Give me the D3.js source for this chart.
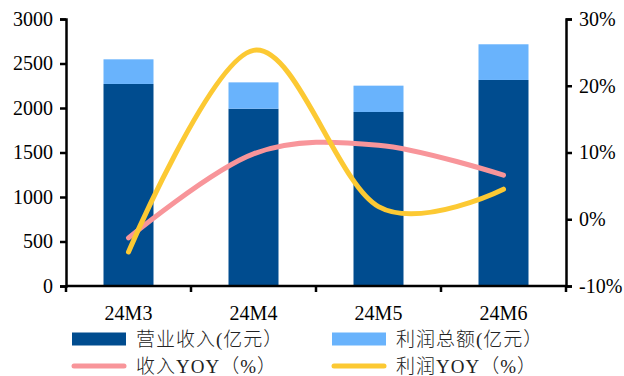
<!DOCTYPE html>
<html>
<head>
<meta charset="utf-8">
<script src="https://cdn.jsdelivr.net/npm/d3@7"></script>
<style>
  html, body { margin: 0; padding: 0; background: #fff; }
  svg { display: block; }
  .num { font-family: "Liberation Serif", "Times New Roman", serif; font-size: 20px; fill: #000; }
  .leg { font-family: "Liberation Serif", "Noto Sans CJK SC", serif; font-size: 19px; font-weight: 300; letter-spacing: 1px; fill: #222; }
</style>
</head>
<body>
<svg id="chart" width="624" height="376"></svg>
<script>
// Monthly figures
const months = ["24M3", "24M4", "24M5", "24M6"];
const revenue = [2270, 1992, 1955, 2315];      // 营业收入(亿元)
const profit = [277, 296, 296, 401];           // 利润总额(亿元)
const revenueYoy = [-2.8, 9.8, 11.1, 6.6];     // 收入YOY (%)
const profitYoy = [-4.9, 25.3, 1.9, 4.5];      // 利润YOY (%)
const leftTicks = [0, 500, 1000, 1500, 2000, 2500, 3000];
const rightTicks = [-10, 0, 10, 20, 30];
const legendNames = ["营业收入(亿元）", "利润总额(亿元）", "收入YOY（%）", "利润YOY（%）"];

const colors = {
  revenue: "#004C8F",
  profit: "#69B3FC",
  revenueYoy: "#F8959A",
  profitYoy: "#FCC933"
};

const svg = d3.select("#chart");
const plotLeft = 66, plotRight = 566, plotTop = 19, plotBottom = 286;

const xBand = d3.scaleBand().domain(months).range([plotLeft, plotRight]);
const yL = d3.scaleLinear().domain([0, 3000]).range([plotBottom, plotTop]);
const yR = d3.scaleLinear().domain([-10, 30]).range([plotBottom, plotTop]);
const barWidth = 50;

// Stacked bars: revenue at the bottom, profit on top
const rows = months.map((m, i) => ({ month: m, revenue: revenue[i], profit: profit[i] }));
const stacked = d3.stack().keys(["revenue", "profit"])(rows);

svg.append("g").selectAll("g")
  .data(stacked)
  .join("g")
  .attr("fill", d => colors[d.key])
  .selectAll("rect")
  .data(d => d)
  .join("rect")
  .attr("x", d => xBand(d.data.month) + xBand.bandwidth() / 2 - barWidth / 2)
  .attr("width", barWidth)
  .attr("y", d => yL(d[1]))
  .attr("height", d => yL(d[0]) - yL(d[1]));

// Smoothed YOY lines on the right axis
const line = d3.line()
  .x((d, i) => xBand(months[i]) + xBand.bandwidth() / 2)
  .y(d => yR(d))
  .curve(d3.curveCatmullRom.alpha(0));

svg.append("path").datum(revenueYoy)
  .attr("d", line).attr("fill", "none")
  .attr("stroke", colors.revenueYoy).attr("stroke-width", 5)
  .attr("stroke-linecap", "round");

svg.append("path").datum(profitYoy)
  .attr("d", line).attr("fill", "none")
  .attr("stroke", colors.profitYoy).attr("stroke-width", 5)
  .attr("stroke-linecap", "round");

// Axes
function styleAxis(g) {
  g.select(".domain").attr("stroke", "#000").attr("stroke-width", 2.5);
  g.selectAll(".tick line").attr("stroke", "#000").attr("stroke-width", 2.5);
  g.selectAll("text").attr("class", "num").attr("font-family", null).attr("font-size", null);
}

svg.append("g")
  .attr("transform", `translate(${plotLeft},0)`)
  .call(d3.axisLeft(yL).tickValues(leftTicks).tickFormat(d3.format("d")).tickSize(6).tickPadding(7).tickSizeOuter(6))
  .call(styleAxis);

svg.append("g")
  .attr("transform", `translate(${plotRight},0)`)
  .call(d3.axisRight(yR).tickValues(rightTicks).tickFormat(d => d + "%").tickSize(6).tickPadding(7).tickSizeOuter(6))
  .call(styleAxis);

// Category axis with ticks at band boundaries
const xg = svg.append("g").attr("transform", `translate(0,${plotBottom})`);
xg.append("line").attr("x1", plotLeft).attr("x2", plotRight).attr("stroke", "#000").attr("stroke-width", 2.5);
const bounds = months.map(m => xBand(m)).concat([plotRight]);
xg.selectAll("line.tk").data(bounds).join("line").attr("class", "tk")
  .attr("x1", d => d).attr("x2", d => d).attr("y1", 0).attr("y2", 6)
  .attr("stroke", "#000").attr("stroke-width", 2.5);
xg.selectAll("text").data(months).join("text")
  .attr("class", "num")
  .attr("x", d => xBand(d) + xBand.bandwidth() / 2)
  .attr("y", 34)
  .attr("text-anchor", "middle")
  .text(d => d);

// Legend
const legendItems = [
  { name: legendNames[0], color: colors.revenue, type: "rect", x: 72, y: 339 },
  { name: legendNames[1], color: colors.profit, type: "rect", x: 332, y: 339 },
  { name: legendNames[2], color: colors.revenueYoy, type: "line", x: 72, y: 366 },
  { name: legendNames[3], color: colors.profitYoy, type: "line", x: 332, y: 366 }
];
const lg = svg.append("g").selectAll("g").data(legendItems).join("g")
  .attr("transform", d => `translate(${d.x},${d.y})`);
lg.filter(d => d.type === "rect").append("rect")
  .attr("x", 0).attr("y", -6.5).attr("width", 54).attr("height", 13)
  .attr("fill", d => d.color);
lg.filter(d => d.type === "line").append("line")
  .attr("x1", 2).attr("x2", 52).attr("y1", 0).attr("y2", 0)
  .attr("stroke", d => d.color).attr("stroke-width", 5).attr("stroke-linecap", "round");
lg.append("text").attr("class", "leg")
  .attr("x", 64).attr("y", 0).attr("dy", "0.35em")
  .text(d => d.name);
</script>
</body>
</html>
